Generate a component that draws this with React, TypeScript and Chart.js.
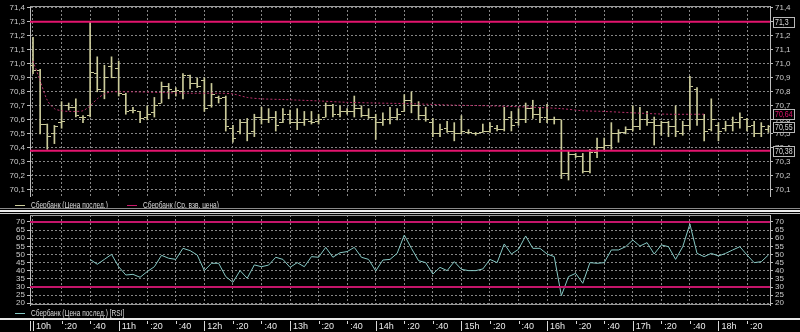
import React, { useEffect, useRef } from "react";
import { Chart, registerables } from "chart.js";

Chart.register(...registerables);

// ---------------- data ----------------
const BAR_MINUTES = 5; // one bar every 5 minutes from 10:00

const timeTicks = [0, 20, 40, 60, 80, 100, 120, 140, 160, 180, 200, 220, 240, 260, 280, 300, 320, 340, 360, 380, 400, 420, 440, 460, 480, 500];
const timeLabels = ["10h", ":20", ":40", "11h", ":20", ":40", "12h", ":20", ":40", "13h", ":20", ":40", "14h", ":20", ":40", "15h", ":20", ":40", "16h", ":20", ":40", "17h", ":20", ":40", "18h", ":20"];

const priceTicks = [70.1, 70.2, 70.3, 70.4, 70.5, 70.6, 70.7, 70.8, 70.9, 71.0, 71.1, 71.2, 71.3, 71.4];
const rsiTicks = [20, 25, 30, 35, 40, 45, 50, 55, 60, 65, 70];

const openPrices = [
  70.99, 70.95, 70.57, 70.50, 70.58, 70.70, 70.69, 70.62, 70.63, 70.93,
  70.80, 70.98, 70.97, 70.78, 70.67, 70.66, 70.62, 70.65, 70.72, 70.84,
  70.80, 70.80, 70.92, 70.86, 70.88, 70.70, 70.76, 70.76, 70.54, 70.52,
  70.58, 70.52, 70.62, 70.60, 70.62, 70.58, 70.64, 70.58, 70.58, 70.59,
  70.59, 70.62, 70.70, 70.64, 70.66, 70.66, 70.68, 70.63, 70.62, 70.58,
  70.60, 70.62, 70.66, 70.74, 70.70, 70.63, 70.58, 70.50, 70.54, 70.52,
  70.50, 70.51, 70.50, 70.51, 70.52, 70.54, 70.53, 70.62, 70.58, 70.60,
  70.68, 70.64, 70.62, 70.60, 70.60, 70.22, 70.35, 70.34, 70.23, 70.37,
  70.40, 70.42, 70.50, 70.51, 70.53, 70.55, 70.60, 70.58, 70.56, 70.58,
  70.55, 70.50, 70.56, 70.82, 70.60, 70.53, 70.56, 70.54, 70.56, 70.58,
  70.60, 70.56, 70.50, 70.53,
];
const highPrices = [
  71.19, 70.96, 70.57, 70.56, 70.73, 70.72, 70.75, 70.63, 71.30, 71.05,
  70.99, 71.05, 71.02, 70.79, 70.69, 70.66, 70.70, 70.76, 70.87, 70.86,
  70.83, 70.93, 70.92, 70.90, 70.90, 70.86, 70.77, 70.77, 70.56, 70.60,
  70.61, 70.64, 70.69, 70.68, 70.66, 70.68, 70.67, 70.68, 70.66, 70.66,
  70.64, 70.72, 70.71, 70.70, 70.68, 70.77, 70.70, 70.68, 70.64, 70.65,
  70.69, 70.68, 70.78, 70.80, 70.73, 70.69, 70.61, 70.57, 70.59, 70.58,
  70.63, 70.53, 70.51, 70.57, 70.58, 70.56, 70.69, 70.66, 70.68, 70.72,
  70.74, 70.69, 70.71, 70.62, 70.60, 70.38, 70.36, 70.36, 70.39, 70.47,
  70.47, 70.58, 70.53, 70.55, 70.70, 70.69, 70.66, 70.62, 70.59, 70.59,
  70.70, 70.59, 70.91, 70.83, 70.64, 70.75, 70.58, 70.59, 70.62, 70.65,
  70.61, 70.59, 70.58, 70.56,
];
const lowPrices = [
  70.93, 70.50, 70.39, 70.43, 70.54, 70.67, 70.62, 70.58, 70.62, 70.80,
  70.75, 70.90, 70.77, 70.64, 70.65, 70.58, 70.60, 70.62, 70.72, 70.75,
  70.77, 70.75, 70.82, 70.83, 70.66, 70.69, 70.72, 70.52, 70.44, 70.50,
  70.45, 70.48, 70.57, 70.58, 70.52, 70.58, 70.57, 70.53, 70.56, 70.57,
  70.57, 70.62, 70.62, 70.62, 70.64, 70.62, 70.62, 70.61, 70.46, 70.56,
  70.57, 70.60, 70.66, 70.65, 70.60, 70.59, 70.48, 70.48, 70.51, 70.45,
  70.50, 70.50, 70.49, 70.51, 70.51, 70.52, 70.52, 70.52, 70.56, 70.58,
  70.61, 70.58, 70.58, 70.57, 70.18, 70.17, 70.33, 70.22, 70.22, 70.33,
  70.38, 70.39, 70.44, 70.50, 70.52, 70.53, 70.56, 70.42, 70.49, 70.48,
  70.48, 70.49, 70.53, 70.56, 70.45, 70.52, 70.45, 70.52, 70.52, 70.54,
  70.52, 70.48, 70.48, 70.51,
];
const closePrices = [
  70.95, 70.57, 70.48, 70.55, 70.59, 70.69, 70.63, 70.62, 70.94, 70.82,
  70.90, 70.90, 70.79, 70.66, 70.67, 70.61, 70.64, 70.70, 70.84, 70.82,
  70.81, 70.92, 70.86, 70.84, 70.68, 70.78, 70.75, 70.55, 70.47, 70.58,
  70.50, 70.62, 70.60, 70.62, 70.56, 70.64, 70.58, 70.58, 70.60, 70.58,
  70.60, 70.70, 70.64, 70.66, 70.66, 70.68, 70.63, 70.62, 70.58, 70.60,
  70.62, 70.64, 70.74, 70.70, 70.63, 70.60, 70.50, 70.53, 70.52, 70.50,
  70.52, 70.51, 70.50, 70.52, 70.55, 70.53, 70.60, 70.56, 70.60, 70.68,
  70.64, 70.62, 70.60, 70.60, 70.22, 70.35, 70.34, 70.23, 70.37, 70.40,
  70.42, 70.50, 70.51, 70.53, 70.55, 70.60, 70.58, 70.56, 70.58, 70.55,
  70.52, 70.56, 70.84, 70.60, 70.52, 70.60, 70.52, 70.56, 70.58, 70.62,
  70.55, 70.50, 70.55, 70.55,
];

// weighted average price (bar index -> value)
const avgBars = [0, 1, 2, 3, 4, 5, 6, 7, 8, 9, 10, 11, 12, 14, 18, 22, 26, 28, 30, 32, 35, 40, 44, 48, 53, 59, 64, 70, 74, 77, 80, 84, 89, 94];
const avgPrices = [71.02, 70.88, 70.74, 70.68, 70.665, 70.66, 70.66, 70.665, 70.70, 70.75, 70.785, 70.80, 70.80, 70.80, 70.795, 70.79, 70.79, 70.785, 70.76, 70.75, 70.745, 70.735, 70.725, 70.72, 70.715, 70.705, 70.70, 70.69, 70.68, 70.665, 70.66, 70.65, 70.64, 70.64];

const rsiFirstBar = 8;
const rsiValues = [
  47.0, 44.0, 47.0, 50.1, 42.5, 37.4, 37.8, 36.0, 39.5, 42.5, 49.5, 47.7, 47.0, 53.8, 52.4, 49.7, 40.1, 44.6, 44.6, 36.4, 32.9, 40.1, 35.4, 43.6, 42.5, 43.5,
  48.3, 47.0, 42.1, 45.0, 42.5, 48.7, 48.3, 54.4, 48.3, 51.1, 51.8, 54.4, 48.3, 47.0, 39.9, 46.6, 47.0, 50.7, 62.0, 53.8, 46.2, 45.0, 38.0, 42.1, 40.1, 45.6, 40.9, 40.1, 40.1, 41.1, 47.0, 45.0, 56.5, 50.3, 53.2, 61.4, 53.8,
  53.8, 50.3, 48.7, 24.7, 36.4, 38.4, 32.3, 45.0, 44.6, 45.0, 52.8, 52.8, 54.8, 58.9, 55.2, 57.3, 50.3, 55.9, 54.8, 47.0, 54.8, 68.8, 50.7, 48.7, 50.7, 49.1, 50.7, 52.8, 54.8, 49.7, 45.0, 45.6, 49.7,
];

const priceLevels = [71.3, 70.38];
const rsiLevels = [70, 30];

const priceLabel = "Сбербанк (Цена послед.)";
const avgLabel = "Сбербанк (Ср. взв. цена)";
const rsiLabel = "Сбербанк (Цена послед.) [RSI]";

// ---------------- style ----------------
const FONT = "'Liberation Sans', Arial, sans-serif";
const BAR = "#cbcb9a";
const AVG = "#b8306a";
const AVG_LEGEND = "#c8186a";
const MAGENTA = "#e3146e";
const RSI_MAGENTA = "#c4156a";
const TEAL = "#86c8c4";
const GRID = "#868686";
const AXIS = "#bdbdbd";
const TEXT = "#cccccc";
const LEGEND_TEXT = "#dcdcdc";

const X_MIN = -2.1;
const X_MAX = 516.1;
const P_MIN = 70.056;
const P_MAX = 71.413;
const R_MIN = 18.95;
const R_MAX = 74.3;

const axisFont = { family: FONT, size: 8, lineHeight: 1 };
const timeFont = { family: FONT, size: 9, lineHeight: 1 };
const fmtComma = (v: number) => v.toFixed(1).replace(".", ",");
const fmtTag = (v: number) => String(+v.toFixed(2)).replace(".", ",");

function xGridScale() {
  return {
    type: "linear",
    min: X_MIN,
    max: X_MAX,
    offset: false,
    afterBuildTicks: (s: any) => {
      s.ticks = timeTicks.map((v) => ({ value: v }));
    },
    afterFit: (s: any) => {
      s.height = 0;
    },
    ticks: { display: false },
    grid: { color: GRID, lineWidth: 1, drawTicks: false, offset: false },
    border: { display: false, dash: [2, 2] },
  };
}

function yScale(position: string, min: number, max: number, ticks: number[], fmt: (v: number) => string, onArea: boolean) {
  return {
    type: "linear",
    position,
    min,
    max,
    afterBuildTicks: (s: any) => {
      s.ticks = ticks.map((v) => ({ value: v }));
    },
    afterFit: (s: any) => {
      s.width = 30;
    },
    ticks: { color: TEXT, font: axisFont, padding: 2, autoSkip: false, callback: (v: any) => fmt(Number(v)) },
    grid: {
      color: GRID,
      lineWidth: 1,
      drawOnChartArea: onArea,
      drawTicks: true,
      tickLength: 3,
      tickColor: AXIS,
      tickBorderDash: [],
    },
    border: { display: true, color: AXIS, width: 1, dash: [2, 2] },
  };
}

// draws horizontally condensed text, like the terminal's bitmap font
function narrowText(ctx: CanvasRenderingContext2D, text: string, x: number, y: number, sx: number) {
  ctx.save();
  ctx.translate(x, y);
  ctx.scale(sx, 1);
  ctx.fillText(text, 0, 0);
  ctx.restore();
}

const decor = {
  id: "decor",
  beforeDraw(chart: any, _a: any, o: any) {
    const { ctx, width } = chart;
    ctx.save();
    for (const r of o.rules || []) {
      ctx.fillStyle = r.color;
      ctx.fillRect(0, r.y, width, r.h);
    }
    ctx.restore();
  },
  afterDraw(chart: any, _a: any, o: any) {
    const { ctx, chartArea: a } = chart;
    ctx.save();
    ctx.lineWidth = 1;
    ctx.strokeStyle = o.frameColor || "#9a9a9a";
    if (o.frameTop) {
      ctx.beginPath();
      ctx.moveTo(a.left, a.top + 0.5);
      ctx.lineTo(a.right, a.top + 0.5);
      ctx.stroke();
    }
    if (o.frameBottom) {
      ctx.beginPath();
      ctx.moveTo(a.left, a.bottom - 0.5);
      ctx.lineTo(a.right, a.bottom - 0.5);
      ctx.stroke();
    }
    // legend
    ctx.font = `9px ${FONT}`;
    ctx.textBaseline = "middle";
    ctx.textAlign = "left";
    const ly = Math.round(a.bottom + (o.legendDy || 9)) + 0.5;
    for (const it of o.legend || []) {
      ctx.strokeStyle = it.color;
      ctx.beginPath();
      ctx.moveTo(it.x, ly);
      ctx.lineTo(it.x + 10, ly);
      ctx.stroke();
      ctx.fillStyle = LEGEND_TEXT;
      narrowText(ctx, it.text, it.x + 16, ly + 0.5, 0.73);
    }
    // value tags on the right axis
    const ys = chart.scales.y;
    for (const t of o.tags || []) {
      const y = Math.round(ys.getPixelForValue(t.value));
      const x = a.right + 3;
      ctx.fillStyle = "#000";
      ctx.fillRect(x, y - 5, 23, 11);
      ctx.strokeStyle = "#b8b8b8";
      ctx.strokeRect(x + 0.5, y - 4.5, 21, 10);
      ctx.fillStyle = t.color;
      narrowText(ctx, t.text, x + 2, y + 1, 0.78);
    }
    ctx.restore();
  },
};

const timeMarks = {
  id: "timeMarks",
  afterDraw(chart: any) {
    const { ctx } = chart;
    const xs = chart.scales.x;
    ctx.save();
    ctx.strokeStyle = "#d8d8d8";
    ctx.lineWidth = 1;
    xs.ticks.forEach((t: any, i: number) => {
      const px = Math.round(xs.getPixelForValue(t.value)) + 0.5;
      const long = /h$/.test(timeLabels[i] || "");
      ctx.beginPath();
      ctx.moveTo(px, 3);
      ctx.lineTo(px, long ? 13 : 6);
      ctx.stroke();
    });
    const lx = chart.chartArea.left + 0.5;
    ctx.beginPath();
    ctx.moveTo(lx, 3);
    ctx.lineTo(lx, 13);
    ctx.stroke();
    ctx.restore();
  },
};

function tickImage(side: "left" | "right") {
  const c = document.createElement("canvas");
  c.width = 7;
  c.height = 1;
  const g = c.getContext("2d")!;
  g.fillStyle = BAR;
  g.fillRect(side === "left" ? 0 : 4, 0, 3, 1);
  return c;
}

function priceConfig(): any {
  const barX = (i: number) => i * BAR_MINUTES;
  const levelSets = priceLevels.map((v) => ({
    type: "line",
    data: [
      { x: X_MIN, y: v },
      { x: X_MAX, y: v },
    ],
    borderColor: MAGENTA,
    borderWidth: 2,
    pointRadius: 0,
  }));
  return {
    type: "line",
    data: {
      datasets: [
        ...levelSets,
        {
          type: "line",
          label: avgLabel,
          data: avgBars.map((b, k) => ({ x: barX(b), y: avgPrices[k] })),
          borderColor: AVG,
          borderWidth: 1,
          borderDash: [2, 2],
          pointRadius: 0,
          tension: 0.3,
        },
        {
          type: "bar",
          label: priceLabel,
          data: highPrices.map((h, i) => ({ x: barX(i), y: [lowPrices[i], h] })),
          backgroundColor: BAR,
          borderWidth: 0,
          barThickness: 1,
        },
        {
          type: "line",
          data: openPrices.map((p, i) => ({ x: barX(i), y: p })),
          showLine: false,
          pointStyle: tickImage("left"),
          pointRadius: 1,
        },
        {
          type: "line",
          data: closePrices.map((p, i) => ({ x: barX(i), y: p })),
          showLine: false,
          pointStyle: tickImage("right"),
          pointRadius: 1,
        },
      ],
    },
    options: {
      responsive: false,
      animation: false,
      events: [],
      layout: { padding: { top: 4, bottom: 13, left: 0, right: 0 } },
      scales: {
        x: xGridScale(),
        y: yScale("left", P_MIN, P_MAX, priceTicks, fmtComma, true),
        y2: yScale("right", P_MIN, P_MAX, priceTicks, fmtComma, false),
      },
      plugins: {
        legend: { display: false },
        tooltip: { enabled: false },
        decor: {
          frameTop: true,
          legendDy: 9,
          legend: [
            { text: priceLabel, color: BAR, x: 15 },
            { text: avgLabel, color: AVG_LEGEND, x: 127 },
          ],
          tags: [
            { value: priceLevels[0], text: fmtTag(priceLevels[0]), color: "#dcdcdc" },
            { value: avgPrices[avgPrices.length - 1], text: fmtTag(avgPrices[avgPrices.length - 1]), color: MAGENTA },
            { value: closePrices[closePrices.length - 1], text: fmtTag(closePrices[closePrices.length - 1]), color: "#dcdcdc" },
            { value: priceLevels[1], text: fmtTag(priceLevels[1]), color: "#dcdcdc" },
          ],
        },
      },
    },
    plugins: [decor],
  };
}

function rsiConfig(): any {
  const levelSets = rsiLevels.map((v) => ({
    type: "line",
    data: [
      { x: X_MIN, y: v },
      { x: X_MAX, y: v },
    ],
    borderColor: RSI_MAGENTA,
    borderWidth: 2,
    pointRadius: 0,
  }));
  return {
    type: "line",
    data: {
      datasets: [
        ...levelSets,
        {
          type: "line",
          label: rsiLabel,
          data: rsiValues.map((v, k) => ({ x: (rsiFirstBar + k) * BAR_MINUTES, y: v })),
          borderColor: TEAL,
          borderWidth: 1,
          pointRadius: 0,
          tension: 0,
        },
      ],
    },
    options: {
      responsive: false,
      animation: false,
      events: [],
      layout: { padding: { top: 7, bottom: 13, left: 0, right: 0 } },
      scales: {
        x: xGridScale(),
        y: yScale("left", R_MIN, R_MAX, rsiTicks, (v) => String(v), true),
        y2: yScale("right", R_MIN, R_MAX, rsiTicks, (v) => String(v), false),
      },
      plugins: {
        legend: { display: false },
        tooltip: { enabled: false },
        decor: {
          rules: [
            { y: 0, h: 1, color: "#8a8a8a" },
            { y: 2, h: 2, color: "#ececec" },
            { y: 5, h: 1, color: "#c8c8c8" },
          ],
          frameTop: true,
          frameBottom: true,
          legendDy: 8,
          legend: [{ text: rsiLabel, color: TEAL, x: 15 }],
        },
      },
    },
    plugins: [decor],
  };
}

function timeConfig(): any {
  return {
    type: "line",
    data: { datasets: [] },
    options: {
      responsive: false,
      animation: false,
      events: [],
      layout: { padding: { top: 0, bottom: 0, left: 30, right: 30 } },
      scales: {
        x: {
          type: "linear",
          min: X_MIN,
          max: X_MAX,
          position: "bottom",
          offset: false,
          afterBuildTicks: (s: any) => {
            s.ticks = timeTicks.map((v) => ({ value: v }));
          },
          afterFit: (s: any) => {
            s.height = 12;
          },
          ticks: {
            color: "#ececec",
            font: timeFont,
            align: "start",
            labelOffset: 3,
            padding: 2,
            autoSkip: false,
            maxRotation: 0,
            callback: (_v: any, i: number) => timeLabels[i],
          },
          grid: { display: false, drawTicks: false },
          border: { display: false },
        },
        y: { display: false },
      },
      plugins: {
        legend: { display: false },
        tooltip: { enabled: false },
        decor: { rules: [{ y: 0, h: 2, color: "#e8e8e8" }] },
      },
    },
    plugins: [decor, timeMarks],
  };
}

export default function App() {
  const priceRef = useRef<HTMLCanvasElement>(null);
  const rsiRef = useRef<HTMLCanvasElement>(null);
  const timeRef = useRef<HTMLCanvasElement>(null);

  useEffect(() => {
    const charts = [
      new Chart(priceRef.current!, priceConfig()),
      new Chart(rsiRef.current!, rsiConfig()),
      new Chart(timeRef.current!, timeConfig()),
    ];
    return () => charts.forEach((c) => c.destroy());
  }, []);

  return (
    <div style={{ position: "fixed", left: 0, top: 0, width: 800, height: 332, background: "#000", overflow: "hidden" }}>
      <canvas ref={priceRef} width={800} height={209} style={{ position: "absolute", left: 0, top: 0 }} />
      <canvas ref={rsiRef} width={800} height={110} style={{ position: "absolute", left: 0, top: 208 }} />
      <canvas ref={timeRef} width={800} height={14} style={{ position: "absolute", left: 0, top: 318 }} />
    </div>
  );
}
